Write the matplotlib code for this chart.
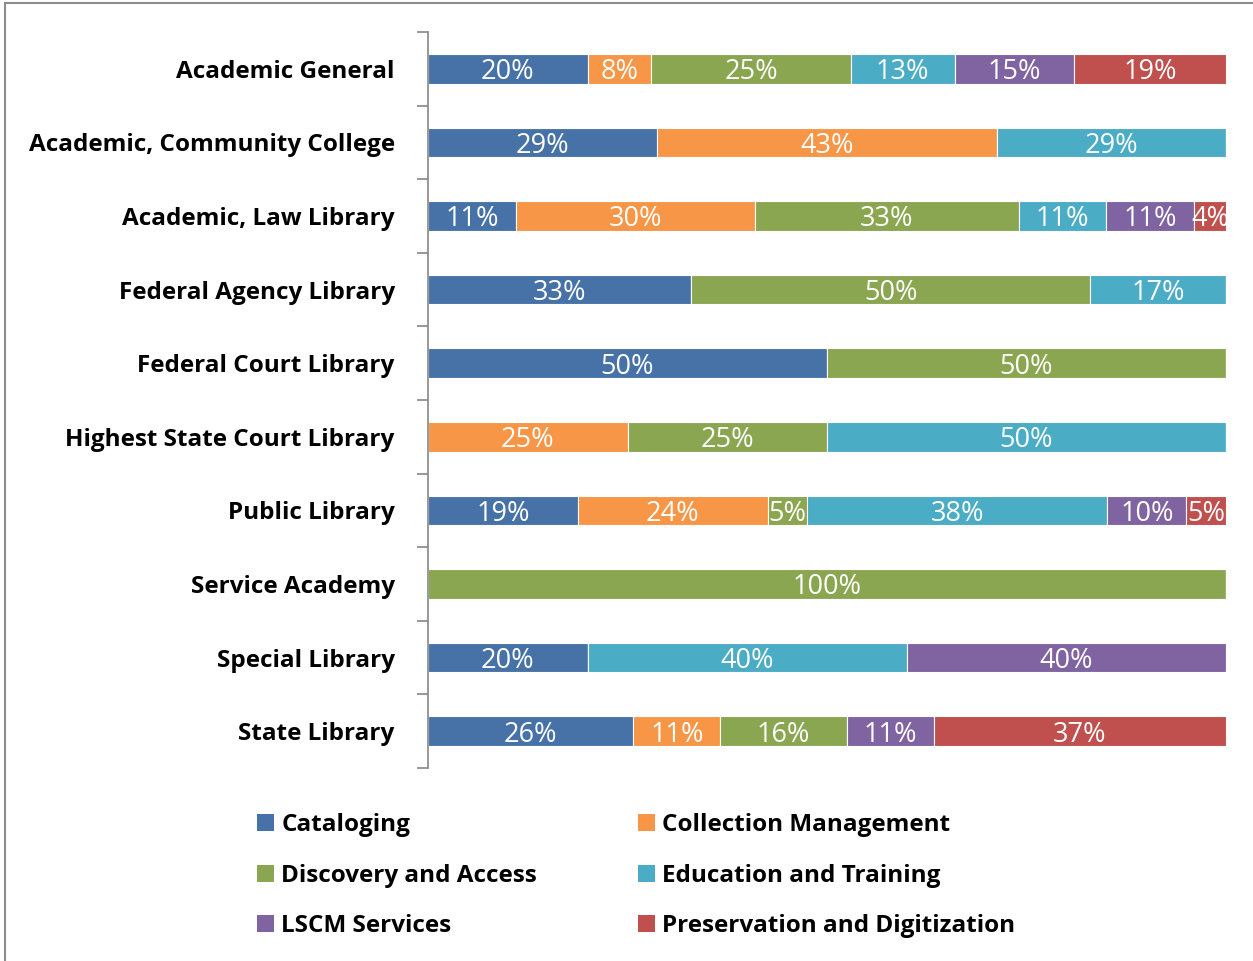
import numpy as np
import matplotlib
matplotlib.use("Agg")
import matplotlib.pyplot as plt
from matplotlib.patches import Patch, Rectangle

# library types (top to bottom)
categories = ["Academic General", "Academic, Community College", "Academic, Law Library",
              "Federal Agency Library", "Federal Court Library", "Highest State Court Library",
              "Public Library", "Service Academy", "Special Library", "State Library"]

series = ["Cataloging", "Collection Management", "Discovery and Access",
          "Education and Training", "LSCM Services", "Preservation and Digitization"]
colors = ["#4672A8", "#F79646", "#8BA650", "#4BACC6", "#8064A2", "#C0504D"]

# percent shares, one list per series
cataloging   = [20, 29, 11, 33, 50, 0, 19, 0, 20, 26]
collection   = [8, 43, 30, 0, 0, 25, 24, 0, 0, 11]
discovery    = [25, 0, 33, 50, 50, 25, 5, 100, 0, 16]
education    = [13, 29, 11, 17, 0, 50, 38, 0, 40, 0]
lscm         = [15, 0, 11, 0, 0, 0, 10, 0, 40, 11]
preservation = [19, 0, 4, 0, 0, 0, 5, 0, 0, 37]

vals = np.array([cataloging, collection, discovery, education, lscm, preservation], dtype=float)
shares = vals / vals.sum(axis=0)

plt.rcParams['font.family'] = ['Open Sans', 'DejaVu Sans']

fig = plt.figure(figsize=(12.53, 9.61), dpi=100)
ax = fig.add_axes([428/1253, 1 - 768/961, (1226 - 428)/1253, (768 - 32)/961])

y = np.arange(len(categories))
left = np.zeros(len(categories))
for i, name in enumerate(series):
    ax.barh(y, shares[i], left=left, height=0.4, color=colors[i],
            edgecolor='white', linewidth=0.8, label=name)
    for j in range(len(categories)):
        if vals[i, j] > 0:
            ax.text(left[j] + shares[i, j] / 2, y[j], '%d%%' % vals[i, j],
                    ha='center', va='center_baseline', color='white', fontsize=19.5)
    left += shares[i]

ax.set_xlim(0, 1)
ax.set_ylim(len(categories) - 0.5, -0.5)
ax.set_xticks([])
ax.set_yticks(np.arange(-0.5, len(categories)), minor=False)
ax.set_yticklabels([])
ax.set_yticks(y, minor=True)
ax.set_yticklabels(categories, minor=True, fontsize=17.5, fontweight='bold')
ax.tick_params(axis='y', which='major', length=8, color='#868686', width=1.2)
ax.tick_params(axis='y', which='minor', length=0, pad=24)
for s in ['top', 'right', 'bottom']:
    ax.spines[s].set_visible(False)
ax.spines['left'].set_color('#868686')
ax.spines['left'].set_linewidth(1.2)

# legend, filled row by row like the original
order = [0, 2, 4, 1, 3, 5]
handles = [Patch(facecolor=colors[k], edgecolor='none') for k in order]
fig.legend(handles, [series[k] for k in order], ncol=2, frameon=False,
           loc='upper left', bbox_to_anchor=(235/1253, 1 - 791/961),
           prop={'size': 17.5, 'weight': 'bold'}, handlelength=0.7, handleheight=0.7,
           handletextpad=0.3, labelspacing=1.1, columnspacing=4.15)

# outer frame
fig.patches.append(Rectangle((5/1253, -0.02), 1.05, 1 - 3/961 + 0.02, transform=fig.transFigure,
                             fill=False, edgecolor='#8c8c8c', linewidth=1.5))

fig.savefig("out.png", dpi=100)
